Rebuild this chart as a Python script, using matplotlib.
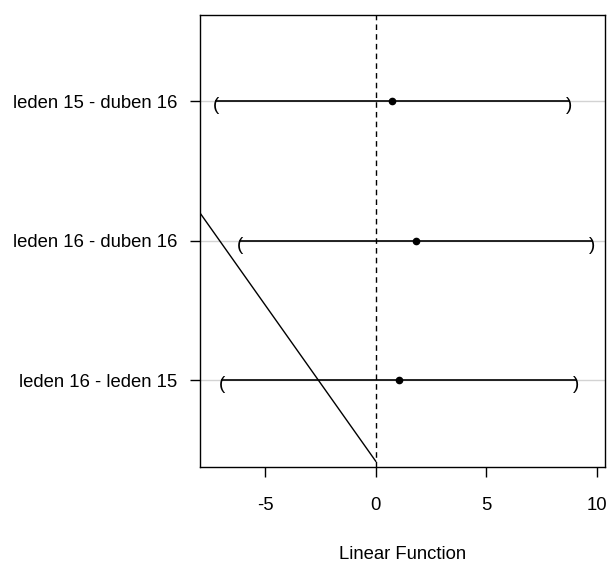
import matplotlib
matplotlib.use("Agg")
import matplotlib.pyplot as plt

plt.rcParams["font.family"] = ["Liberation Sans", "DejaVu Sans"]

# simultaneous confidence intervals for the contrasts (top to bottom)
contrasts = ["leden 15 - duben 16", "leden 16 - duben 16", "leden 16 - leden 15"]
estimate = [0.75, 1.82, 1.05]
lower = [-7.22, -6.13, -6.93]
upper = [8.73, 9.79, 9.04]

# stray reference line crossing the panel
diag_x = [-7.93, 0.0]
diag_y = [2.197, 0.419]

xticks = [-5, 0, 5, 10]
xlim = (-7.93, 10.36)
ylim = (0.38, 3.62)

fig = plt.figure(figsize=(6.09, 5.61), dpi=100)
ax = fig.add_axes([0.3289, 0.1681, 0.6645, 0.8052])

k = len(contrasts)
ypos = list(range(k, 0, -1))

for y in ypos:
    ax.axhline(y, color="#d3d3d3", lw=1.0, zorder=1)

ax.axvline(0, color="black", lw=1.0, ls=(0, (4, 3)), zorder=2)
ax.plot(diag_x, diag_y, color="black", lw=1.0, zorder=2)

for y, est, lo, hi in zip(ypos, estimate, lower, upper):
    ax.plot([lo, hi], [y, y], color="black", lw=1.2, zorder=3)
    ax.plot(est, y, "o", color="black", ms=4.5, zorder=4)
    for xv, s in ((lo, "("), (hi, ")")):
        ax.annotate(s, (xv, y), xytext=(0, -3.0), textcoords="offset points",
                    ha="center", va="center", fontsize=13.5, zorder=4)

ax.set_xlim(*xlim)
ax.set_ylim(*ylim)
ax.set_xticks(xticks)
ax.set_xticklabels([str(t) for t in xticks])
ax.set_yticks(ypos)
ax.set_yticklabels(contrasts)
ax.tick_params(axis="both", length=7.5, width=1.0, labelsize=13.3, colors="black")
ax.tick_params(axis="x", pad=14)
ax.tick_params(axis="y", pad=9)
for sp in ax.spines.values():
    sp.set_linewidth(1.0)
ax.set_xlabel("Linear Function", fontsize=13.3, labelpad=23)

fig.savefig("out.png", dpi=100)
